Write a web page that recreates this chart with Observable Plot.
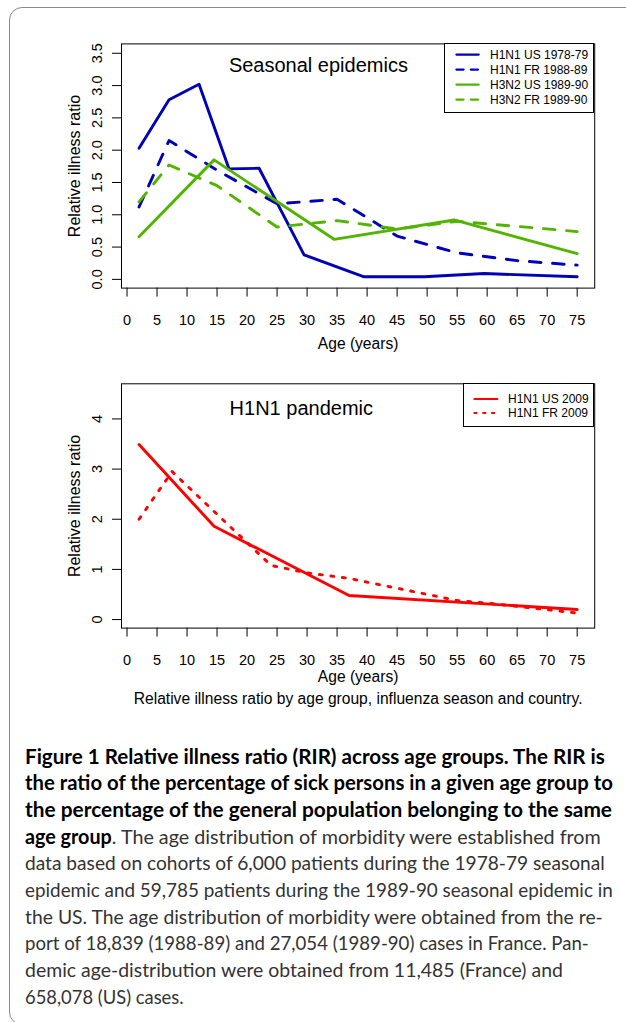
<!DOCTYPE html>
<html><head><meta charset="utf-8">
<script src="https://cdn.jsdelivr.net/npm/d3@7"></script>
<script src="https://cdn.jsdelivr.net/npm/@observablehq/plot@0.6"></script>
<style>
html,body{margin:0;padding:0;background:#fff;}
body{width:626px;height:1022px;position:relative;overflow:hidden;font-family:'Liberation Sans',Arial,sans-serif;}
#frame{position:absolute;left:9px;top:7px;width:700px;height:1018px;border:1px solid #8a8a8a;border-radius:13px;box-sizing:border-box;}
.chart{position:absolute;left:0;}
.legend{position:absolute;box-sizing:border-box;border:1px solid #000;background:#fff;}
.legend svg{position:absolute;left:-1px;top:-1px;overflow:visible;}
.cap{position:absolute;left:25px;white-space:nowrap;font-family:Lato,'Open Sans',sans-serif;font-size:20px;line-height:26px;color:#333;}
.cap span.t{display:inline-block;transform-origin:0 50%;}
.cap b{font-weight:700;color:#000;}
</style>
</head><body>
<div id="frame"></div>
<div id="top" class="chart" style="top:0px"></div>
<div id="bot" class="chart" style="top:360px"></div>
<div id="legTop" class="legend" style="left:444.4px;top:43.4px;width:149.5px;height:69.3px"></div>
<div id="legBot" class="legend" style="left:462.6px;top:383.3px;width:131.3px;height:43.3px"></div>
<div id="caption"></div>
<script>
// ---- data: seasonal epidemics ----
const h1n1US7879Age = [2, 7, 12, 17, 22, 29.5, 39.5, 49.5, 59.5, 75];
const h1n1US7879Rir = [2.03, 2.78, 3.02, 1.71, 1.72, 0.38, 0.04, 0.04, 0.09, 0.04];
const h1n1FR8889Age = [2, 7, 15, 25, 35, 45, 55, 65, 75];
const h1n1FR8889Rir = [1.12, 2.15, 1.69, 1.17, 1.24, 0.67, 0.41, 0.29, 0.22];
const h3n2US8990Age = [2, 14.5, 34.5, 54.5, 75];
const h3n2US8990Rir = [0.66, 1.85, 0.62, 0.92, 0.40];
const h3n2FR8990Age = [2, 7, 15, 25, 35, 45, 55, 65, 75];
const h3n2FR8990Rir = [1.20, 1.77, 1.45, 0.81, 0.91, 0.78, 0.90, 0.82, 0.74];
// ---- data: H1N1 pandemic ----
const h1n1US2009Age = [2, 14.5, 37, 75];
const h1n1US2009Rir = [3.49, 1.86, 0.48, 0.20];
const h1n1FR2009Age = [2, 7.5, 24, 30, 37, 55, 60, 75];
const h1n1FR2009Rir = [2.00, 2.95, 1.08, 0.93, 0.82, 0.38, 0.33, 0.13];
// ---- ticks & labels ----
const xTicks = [0, 5, 10, 15, 20, 25, 30, 35, 40, 45, 50, 55, 60, 65, 70, 75];
const yTicksTop = [0, 0.5, 1, 1.5, 2, 2.5, 3, 3.5];
const yTicksBot = [0, 1, 2, 3, 4];
const seasonalNames = ["H1N1 US 1978-79", "H1N1 FR 1988-89", "H3N2 US 1989-90", "H3N2 FR 1989-90"];
const pandemicNames = ["H1N1 US 2009", "H1N1 FR 2009"];
const BLUE = "#0000b8", GREEN = "#52b400", RED = "#ff0000";

const tbl = (ages, vals) => d3.zip(ages, vals).map(([age, rir]) => ({age, rir}));
const FONT = "'Liberation Sans', Arial, Helvetica, sans-serif";
const lineOpts = (stroke, dash) => ({x: "age", y: "rir", stroke, strokeWidth: 2.9, strokeDasharray: dash, strokeLinecap: "round", strokeLinejoin: "round"});
const DASH = "11.6,11.6", DOT = "2.9,8.7";

function commonMarks(yTicks, fmt) {
  return [
    Plot.frame({stroke: "#000", strokeWidth: 1}),
    Plot.axisX({ticks: xTicks, tickSize: 9, tickPadding: 18, label: null, fontSize: 14.5, tickFormat: d => String(d)}),
    Plot.axisY({ticks: yTicks, tickSize: 9, label: null, tickFormat: () => ""}),
    Plot.text(yTicks, {y: d => d, text: fmt, frameAnchor: "left", dx: -24.2, rotate: -90, textAnchor: "middle", lineAnchor: "middle", fontSize: 14.5}),
    Plot.text(["Relative illness ratio"], {text: d => d, frameAnchor: "left", dx: -46.5, rotate: -90, textAnchor: "middle", lineAnchor: "middle", fontSize: 16})
  ];
}

const topPlot = Plot.plot({
  width: 626, height: 360,
  marginLeft: 121, marginRight: 31.8, marginTop: 43.4, marginBottom: 72.4,
  x: {domain: [-0.92, 77.92]},
  y: {domain: [-0.135, 3.645]},
  style: {fontFamily: FONT, fontSize: "14.5px", color: "#000", background: "transparent", overflow: "visible"},
  marks: [
    ...commonMarks(yTicksTop, d => d.toFixed(1)),
    Plot.line(tbl(h1n1US7879Age, h1n1US7879Rir), lineOpts(BLUE, null)),
    Plot.line(tbl(h1n1FR8889Age, h1n1FR8889Rir), lineOpts(BLUE, DASH)),
    Plot.line(tbl(h3n2US8990Age, h3n2US8990Rir), lineOpts(GREEN, null)),
    Plot.line(tbl(h3n2FR8990Age, h3n2FR8990Rir), lineOpts(GREEN, DASH)),
    Plot.text(["Seasonal epidemics"], {text: d => d, frameAnchor: "top-left", dx: 107.4, dy: 21.6, textAnchor: "start", lineAnchor: "middle", fontSize: 20}),
    Plot.text(["Age (years)"], {text: d => d, frameAnchor: "bottom", dy: 55.7, lineAnchor: "middle", fontSize: 15.6})
  ]
});
document.getElementById("top").appendChild(topPlot);

const botPlot = Plot.plot({
  width: 626, height: 350,
  marginLeft: 121, marginRight: 31.8, marginTop: 23.3, marginBottom: 82.4,
  x: {domain: [-0.92, 77.92]},
  y: {domain: [-0.17, 4.70]},
  style: {fontFamily: FONT, fontSize: "14.5px", color: "#000", background: "transparent", overflow: "visible"},
  marks: [
    ...commonMarks(yTicksBot, d => String(d)),
    Plot.line(tbl(h1n1US2009Age, h1n1US2009Rir), lineOpts(RED, null)),
    Plot.line(tbl(h1n1FR2009Age, h1n1FR2009Rir), lineOpts(RED, DOT)),
    Plot.text(["H1N1 pandemic"], {text: d => d, frameAnchor: "top-left", dx: 108.1, dy: 25, textAnchor: "start", lineAnchor: "middle", fontSize: 20}),
    Plot.text(["Age (years)"], {text: d => d, frameAnchor: "bottom", dy: 48.4, lineAnchor: "middle", fontSize: 15.6}),
    Plot.text(["Relative illness ratio by age group, influenza season and country."], {text: d => d, frameAnchor: "bottom", dy: 70.7, lineAnchor: "middle", fontSize: 15.6})
  ]
});
document.getElementById("bot").appendChild(botPlot);

// ---- legends ----
function legend(id, names, styles, rows, x0, x1, tx, w, h) {
  const NS = "http://www.w3.org/2000/svg";
  const svg = document.createElementNS(NS, "svg");
  svg.setAttribute("width", w); svg.setAttribute("height", h);
  names.forEach((n, i) => {
    const [col, dash] = styles[i];
    const ln = document.createElementNS(NS, "line");
    ln.setAttribute("x1", x0); ln.setAttribute("x2", x1);
    ln.setAttribute("y1", rows[i]); ln.setAttribute("y2", rows[i]);
    ln.setAttribute("stroke", col); ln.setAttribute("stroke-width", 2.2);
    ln.setAttribute("stroke-linecap", "round");
    if (dash) ln.setAttribute("stroke-dasharray", dash);
    svg.appendChild(ln);
    const t = document.createElementNS(NS, "text");
    t.setAttribute("x", tx); t.setAttribute("y", rows[i] + 4.3);
    t.setAttribute("font-family", FONT); t.setAttribute("font-size", 12);
    t.setAttribute("fill", "#000");
    t.textContent = n;
    svg.appendChild(t);
  });
  document.getElementById(id).appendChild(svg);
}
legend("legTop", seasonalNames, [[BLUE, null], [BLUE, "7.2,7.2"], [GREEN, null], [GREEN, "7.2,7.2"]],
  [11.6, 26.6, 41.6, 56.6], 12.4, 34.7, 46, 149.5, 69.3);
legend("legBot", pandemicNames, [[RED, null], [RED, "2.2,6.6"]],
  [16, 30], 11.4, 34.4, 45, 131.3, 43.3);

// ---- figure caption ----
const capLines = [
  "<b>Figure 1 Relative illness ratio (RIR) across age groups. The RIR is</b>",
  "<b>the ratio of the percentage of sick persons in a given age group to</b>",
  "<b>the percentage of the general population belonging to the same</b>",
  "<b>age group</b>. The age distribution of morbidity were established from",
  "data based on cohorts of 6,000 patients during the 1978-79 seasonal",
  "epidemic and 59,785 patients during the 1989-90 seasonal epidemic in",
  "the US. The age distribution of morbidity were obtained from the re-",
  "port of 18,839 (1988-89) and 27,054 (1989-90) cases in France. Pan-",
  "demic age-distribution were obtained from 11,485 (France) and",
  "658,078 (US) cases."
];
const capRight = [604.8, 612.8, 612, 600.8, 604.8, 612.8, 602.8, 588.8, 562.9, 183.6];
const capEl = document.getElementById("caption");
const spans = capLines.map((html, i) => {
  const d = document.createElement("div");
  d.className = "cap";
  d.style.top = (756.7 + i * 26.67 - 14) + "px";
  const s = document.createElement("span");
  s.className = "t";
  s.innerHTML = html;
  d.appendChild(s);
  capEl.appendChild(d);
  return s;
});
function fit() {
  spans.forEach((s, i) => {
    s.style.transform = "none";
    const w = s.getBoundingClientRect().width;
    const target = capRight[i] - 25;
    if (w > 0) s.style.transform = `scaleX(${target / w})`;
  });
}
fit();
if (document.fonts && document.fonts.ready) document.fonts.ready.then(fit);
</script>
</body></html>
